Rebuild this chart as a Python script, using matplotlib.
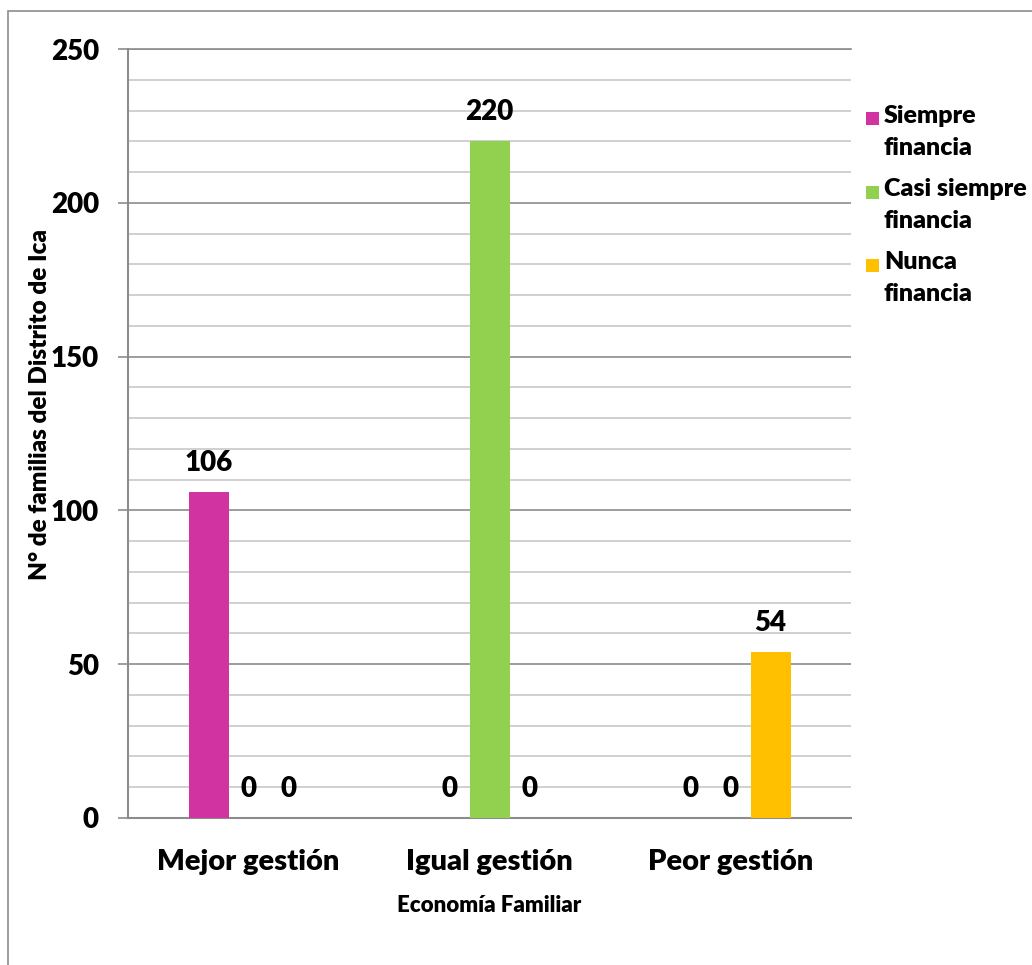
import numpy as np
import matplotlib
matplotlib.use("Agg")
import matplotlib.pyplot as plt
from matplotlib.patches import Rectangle
from matplotlib.legend_handler import HandlerPatch

plt.rcParams['font.family'] = ['Lato', 'DejaVu Sans']
plt.rcParams['font.weight'] = 800
BW = 800

categories = ['Mejor gestión', 'Igual gestión', 'Peor gestión']
series_names = ['Siempre\nfinancia', 'Casi siempre\nfinancia', 'Nunca\nfinancia']
siempre = [106, 0, 0]
casi_siempre = [0, 220, 0]
nunca = [0, 0, 54]
colors = ['#D133A1', '#92D050', '#FFC000']


# legend square next to the first line of the label (like Excel)
def top_square(legend, orig_handle, xdescent, ydescent, width, height, fontsize):
    s = 0.52 * fontsize
    return Rectangle((-xdescent, -ydescent + height - s + 2), s, s)


fig = plt.figure(figsize=(10.32, 9.65), dpi=100)
# outer chart border
fig.patches.append(Rectangle((8 / 1032, -0.01), 1.1, 1 - 11 / 965 + 0.01,
                             transform=fig.transFigure, fill=False,
                             edgecolor='#8C8C8C', linewidth=1.2))

ax = fig.add_axes([128 / 1032, 1 - 818 / 965, 723 / 1032, 769 / 965])

x = np.arange(len(categories))
w = 40 / 241
all_series = [siempre, casi_siempre, nunca]
handles = []
for i, (vals, name, c) in enumerate(zip(all_series, series_names, colors)):
    bars = ax.bar(x + (i - 1) * w, vals, width=w, color=c, label=name, zorder=3)
    handles.append(bars)
    for b, v in zip(bars, vals):
        ax.annotate(str(v), (b.get_x() + b.get_width() / 2, v),
                    xytext=(0, 21), textcoords='offset points',
                    ha='center', va='center', fontsize=20, fontweight=BW)

ax.set_xlim(-0.5, 2.5)
ax.set_ylim(0, 250)
ax.set_yticks(np.arange(0, 251, 50))
ax.set_yticks(np.arange(0, 251, 10), minor=True)
ax.grid(axis='y', which='minor', color='#C8C8C8', linewidth=1.2, zorder=0)
ax.grid(axis='y', which='major', color='#8C8C8C', linewidth=1.2, zorder=1)
ax.tick_params(axis='y', which='major', length=7, width=1.2, color='#8C8C8C',
               labelsize=20, pad=14)
ax.tick_params(axis='y', which='minor', length=0)
ax.set_xticks(x)
ax.set_xticklabels(categories, fontsize=21, fontweight=BW)
ax.tick_params(axis='x', length=0, pad=22)
for lab in ax.get_yticklabels():
    lab.set_fontweight(BW)

for s in ['top', 'right']:
    ax.spines[s].set_visible(False)
for s in ['left', 'bottom']:
    ax.spines[s].set_color('#8C8C8C')
    ax.spines[s].set_linewidth(1.5)
ax.axhline(250, color='#8C8C8C', linewidth=1.2, zorder=1, clip_on=False)

ax.set_xlabel('Economía Familiar', fontsize=16, fontweight=BW, labelpad=15)
fig.text(40 / 1032, 1 - 405 / 965, 'N° de familias del Distrito de Ica',
         rotation=90, ha='center', va='center', fontsize=17.5, fontweight=BW)

leg = fig.legend(handles=[h.patches[0] for h in handles], labels=series_names,
                 loc='upper left', bbox_to_anchor=(866 / 1032, 1 - 105 / 965),
                 frameon=False, fontsize=18, handlelength=0.52, handleheight=1.8,
                 handletextpad=0.2, labelspacing=0.77, borderpad=0, borderaxespad=0,
                 handler_map={Rectangle: HandlerPatch(patch_func=top_square)})
for t in leg.get_texts():
    t.set_fontweight(BW)
    t.set_linespacing(1.55)

fig.savefig('out.png', dpi=100)
